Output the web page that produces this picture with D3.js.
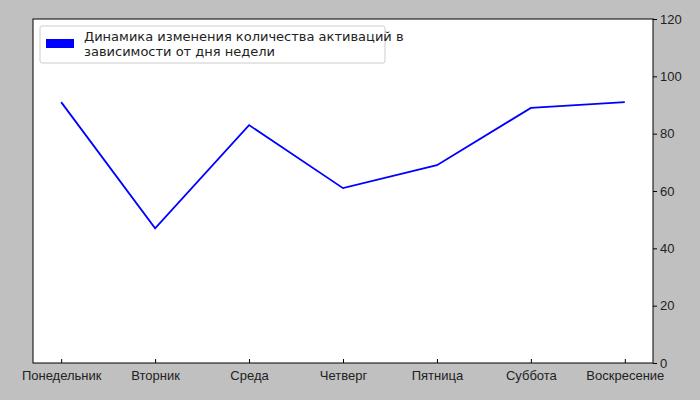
<!DOCTYPE html>
<html><head><meta charset="utf-8">
<script src="https://cdn.jsdelivr.net/npm/d3@7"></script>
<style>body{margin:0;background:#c0c0c0}svg{display:block;font-family:"DejaVu Sans",sans-serif}</style>
</head><body><svg width="700" height="400"></svg>
<script>
const days = ["Понедельник","Вторник","Среда","Четверг","Пятница","Суббота","Воскресение"];
const values = [91,47,83,61,69,89,91];
const yTicks = [0,20,40,60,80,100,120];
const legendLines = ["Динамика изменения количества активаций в","зависимости от дня недели"];

const svg = d3.select("svg");
const L=33,R=653,T=19,B=363;
svg.append("rect").attr("width",700).attr("height",400).attr("fill","#c0c0c0");
svg.append("rect").attr("x",L).attr("y",T).attr("width",R-L).attr("height",B-T).attr("fill","#fff");
const x = d3.scaleLinear().domain([-0.3,6.3]).range([L,R]);
const y = d3.scaleLinear().domain([0,120]).range([B,T]);

const xa = svg.append("g").attr("transform",`translate(0,${B})`)
  .call(d3.axisBottom(x).tickValues(d3.range(days.length)).tickFormat(i=>days[i]).tickSizeInner(-4).tickSizeOuter(0));
const ya = svg.append("g").attr("transform",`translate(${R},0)`)
  .call(d3.axisRight(y).tickValues(yTicks).tickSize(4).tickSizeOuter(0));
[xa,ya].forEach(a=>{a.select(".domain").remove();a.selectAll("text").attr("font-size",13).attr("fill","#222");a.selectAll("line").attr("stroke","#000");});
xa.selectAll("text").attr("dy","1.1em");
ya.selectAll("text").attr("x",7);

svg.append("path").datum(values).attr("fill","none").attr("stroke","#0000ff").attr("stroke-width",1.8)
  .attr("d",d3.line().x((d,i)=>x(i)).y(d=>y(d)));

svg.append("rect").attr("x",L).attr("y",T).attr("width",R-L).attr("height",B-T).attr("fill","none").attr("stroke","#000");

const lg = svg.append("g");
lg.append("rect").attr("x",40).attr("y",26).attr("width",345).attr("height",37).attr("fill","#fff").attr("stroke","#ccc").attr("rx",2);
lg.append("rect").attr("x",46).attr("y",39).attr("width",28).attr("height",9).attr("fill","#0000ff");
legendLines.forEach((t,i)=>lg.append("text").attr("x",84).attr("y",41+i*15).attr("font-size",13).attr("fill","#222").text(t));
</script></body></html>
